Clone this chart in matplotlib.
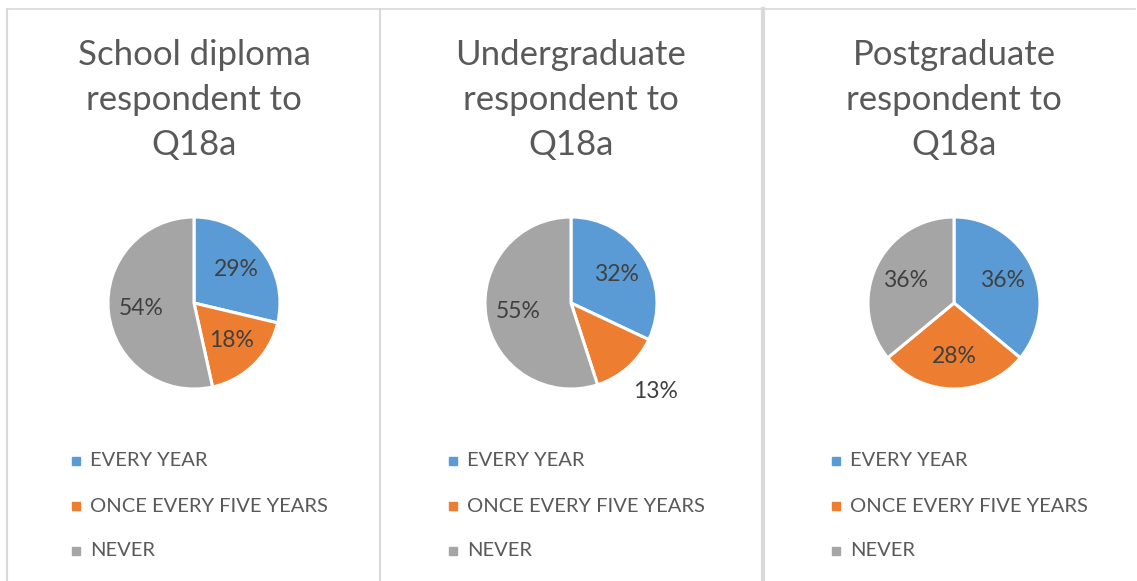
import matplotlib
matplotlib.use("Agg")
import matplotlib.pyplot as plt
from matplotlib.lines import Line2D
from matplotlib.patches import Rectangle
import numpy as np

plt.rcParams['font.family'] = ['Lato', 'DejaVu Sans']

titles = ["School diploma\nrespondent to\nQ18a",
          "Undergraduate\nrespondent to\nQ18a",
          "Postgraduate\nrespondent to\nQ18a"]
categories = ["EVERY YEAR", "ONCE EVERY FIVE YEARS", "NEVER"]
values_school = [29, 18, 54]
values_under = [32, 13, 55]
values_post = [36, 28, 36]
colors = ["#5B9BD5", "#ED7D31", "#A5A5A5"]

W, H = 1137, 581
fig = plt.figure(figsize=(W / 100, H / 100), dpi=100)
fig.patch.set_facecolor("white")

def fx(x):
    return x / W

def fy(y):
    return 1 - y / H

border = "#D9D9D9"
# frame lines
fig.add_artist(Line2D([fx(7), fx(1135)], [fy(9), fy(9)], color=border, lw=1.2))
fig.add_artist(Line2D([fx(7), fx(7)], [fy(9), 0], color=border, lw=1.5))
fig.add_artist(Line2D([fx(380), fx(380)], [fy(9), 0], color=border, lw=1.5))
fig.add_artist(Line2D([fx(763), fx(763)], [fy(9), 0], color=border, lw=3.0))

panels = [(194, values_school), (571, values_under), (954, values_post)]
R = 86
cy = 303
text_col = "#595959"
label_col = "#404040"

for i, (cx, vals) in enumerate(panels):
    ax = fig.add_axes([fx(cx - R), fy(cy + R), (2 * R) / W, (2 * R) / H])
    ax.set_aspect("equal")
    wedges, texts, autotexts = ax.pie(
        vals, colors=colors, startangle=90, counterclock=False,
        wedgeprops=dict(edgecolor="white", linewidth=2.2),
        autopct=lambda p: f"{p:.0f}%", pctdistance=0.62,
        textprops=dict(fontsize=16.5, color=label_col))
    for t, v in zip(autotexts, vals):
        t.set_text(f"{v}%")
    if i == 1:
        w = wedges[1]
        ang = np.deg2rad((w.theta1 + w.theta2) / 2)
        autotexts[1].set_position((1.3 * np.cos(ang) + 0.12, 1.3 * np.sin(ang) - 0.05))
    ax.set_xlim(-1, 1)
    ax.set_ylim(-1, 1)

    fig.text(fx(cx), fy(100), titles[i], ha="center", va="center",
             fontsize=25, color=text_col, linespacing=1.5)

    lx = cx - 118
    for j, cat in enumerate(categories):
        ly = 461 + 45 * j
        fig.add_artist(Rectangle((fx(lx - 4), fy(ly + 4)), 8 / W, 8 / H,
                                 color=colors[j], transform=fig.transFigure))
        fig.text(fx(lx + 14), fy(ly), cat, ha="left", va="center",
                 fontsize=14.5, color=text_col)

fig.savefig("out.png", dpi=100, facecolor="white")
